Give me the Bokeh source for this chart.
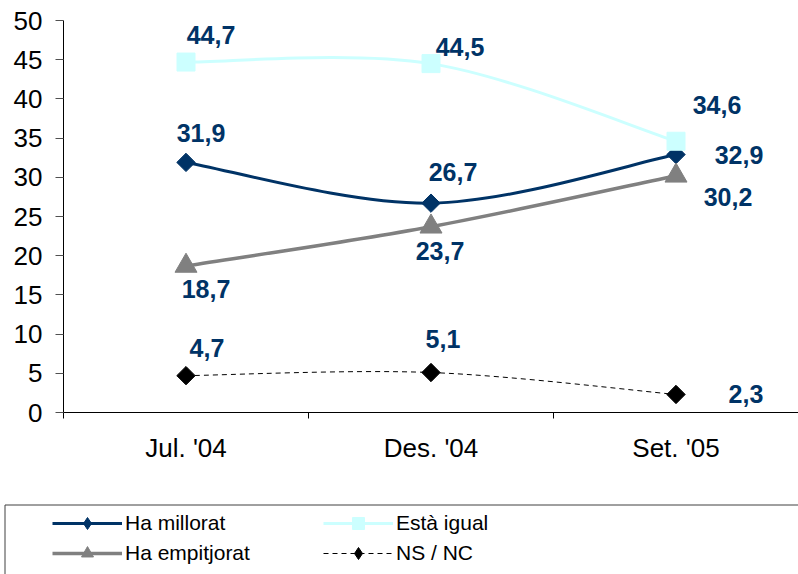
import numpy as np
from bokeh.plotting import figure
from bokeh.models import Range1d, FixedTicker, ColumnDataSource, Legend, LegendItem
from bokeh.layouts import column, row
from bokeh.embed import file_html
from bokeh.resources import INLINE
from bokeh.core.properties import value

# ---- data ----
periods = ["Jul. '04", "Des. '04", "Set. '05"]
millorat = [31.9, 26.7, 32.9]
igual = [44.7, 44.5, 34.6]
empitjorat = [18.7, 23.7, 30.2]
nsnc = [4.7, 5.1, 2.3]
series_names = ["Ha millorat", "Està igual", "Ha empitjorat", "NS / NC"]
y_ticks = list(range(0, 55, 5))

# ---- styles ----
NAVY = "#003366"
CYAN = "#CCFFFF"
GRAY = "#808080"
styles = [
    dict(color=NAVY, width=3, dash="solid", marker="square", angle=np.pi / 4, size=13, lmarker="diamond"),
    dict(color=CYAN, width=3, dash="solid", marker="square", angle=0.0, size=18, lmarker="square"),
    dict(color=GRAY, width=3.5, dash="solid", marker="triangle", angle=0.0, size=22, lmarker="triangle"),
    dict(color="black", width=1, dash="5 4", marker="square", angle=np.pi / 4, size=13, lmarker="diamond"),
]
# label offsets (screen px) relative to each point
label_dx = [[15, 22, 63], [25, 29, 41], [20, 9, 52], [21, 12, 70]]
label_dy = [[-29, -31, 0], [-27, -17, -36], [23, 24, 21], [-28, -34, 0]]

all_series = [millorat, igual, empitjorat, nsnc]
xpos = np.arange(len(periods), dtype=float)


def smooth(xs, ys):
    xs = np.asarray(xs, float)
    ys = np.asarray(ys, float)
    n = len(xs)
    px = np.concatenate([[xs[0]], xs, [xs[-1]]])
    py = np.concatenate([[ys[0]], ys, [ys[-1]]])
    cx0 = px[1:n] + (px[2:n + 1] - px[0:n - 1]) / 6
    cy0 = py[1:n] + (py[2:n + 1] - py[0:n - 1]) / 6
    cx1 = px[2:n + 1] - (px[3:n + 2] - px[1:n]) / 6
    cy1 = py[2:n + 1] - (py[3:n + 2] - py[1:n]) / 6
    return dict(x0=xs[:-1], y0=ys[:-1], x1=xs[1:], y1=ys[1:],
                cx0=cx0, cy0=cy0, cx1=cx1, cy1=cy1)


p = figure(width=798, height=500, x_range=Range1d(-0.5, 2.5), y_range=Range1d(0, 50),
           output_backend="svg", toolbar_location=None,
           min_border_left=63, min_border_right=0, min_border_top=20, min_border_bottom=88)
p.outline_line_color = None
p.xgrid.visible = False
p.ygrid.visible = False
p.background_fill_color = "white"

yax = p.yaxis[0]
yax.ticker = FixedTicker(ticks=y_ticks)
yax.major_tick_out = 8
yax.major_tick_in = 0
yax.minor_tick_out = 0
yax.minor_tick_in = 0
yax.axis_line_color = "black"
yax.major_tick_line_color = "#505050"
yax.major_label_text_font = "Liberation Sans"
yax.major_label_text_font_size = "26px"
yax.major_label_text_color = "black"
yax.major_label_standoff = 13

xax = p.xaxis[0]
xax.ticker = FixedTicker(ticks=list(xpos), minor_ticks=list(np.arange(-0.5, len(periods), 1.0)))
xax.major_label_overrides = {float(i): lab for i, lab in enumerate(periods)}
xax.major_tick_out = 0
xax.major_tick_in = 0
xax.minor_tick_out = 6
xax.minor_tick_in = 0
xax.minor_tick_line_color = "black"
xax.axis_line_color = "black"
xax.major_label_text_font = "Liberation Sans"
xax.major_label_text_font_size = "26px"
xax.major_label_text_color = "black"
xax.major_label_standoff = 14

for vals, st in zip(all_series, styles):
    src = ColumnDataSource(smooth(xpos, vals))
    p.bezier(x0="x0", y0="y0", x1="x1", y1="y1", cx0="cx0", cy0="cy0", cx1="cx1", cy1="cy1",
             source=src, line_color=st["color"], line_width=st["width"], line_dash=st["dash"])

for vals, st, dx, dy in zip(all_series, styles, label_dx, label_dy):
    p.scatter(x=xpos, y=vals, marker=st["marker"], angle=st["angle"], size=st["size"],
              fill_color=st["color"], line_color=st["color"])
    lsrc = ColumnDataSource(dict(x=xpos, y=vals,
                                 t=[f"{v:.1f}".replace(".", ",") for v in vals],
                                 dx=dx, dy=dy))
    p.text(x="x", y="y", text="t", x_offset="dx", y_offset="dy", source=lsrc,
           text_align="center", text_baseline="middle",
           text_font=value("Liberation Sans"), text_font_style="bold",
           text_font_size="25px", text_color=NAVY)

# ---- legend figure ----
p2 = figure(width=798, height=74, x_range=Range1d(0, 798), y_range=Range1d(0, 74),
            output_backend="svg", toolbar_location=None,
            x_axis_location=None, y_axis_location=None, min_border=0)
p2.outline_line_color = None
p2.xgrid.visible = False
p2.ygrid.visible = False
p2.quad(left=[4.5], right=[900], top=[69.5], bottom=[-20], fill_color=None,
        line_color="#404040", line_width=1)

items = []
for name, vals, st in zip(series_names, all_series, styles):
    rl = p2.line(x=xpos, y=vals, line_color=st["color"], line_width=st["width"],
                 line_dash=st["dash"], visible=False)
    rm = p2.scatter(x=xpos, y=vals, marker=st["lmarker"], size=st["size"],
                    fill_color=st["color"], line_color=st["color"], visible=False)
    items.append(LegendItem(label=name, renderers=[rl, rm]))

legend = Legend(items=items, location=(52, 6), orientation="horizontal", ncols=2,
                padding=0, margin=0, spacing=0, glyph_width=70, glyph_height=30,
                label_height=26, label_width=198, label_standoff=3,
                border_line_color=None, background_fill_alpha=0,
                label_text_font="Liberation Sans", label_text_font_size="21px",
                label_text_color="black")
p2.add_layout(legend)

layout = column(p, row(p2), spacing=0)
open("out.html", "w").write(file_html(layout, INLINE))
